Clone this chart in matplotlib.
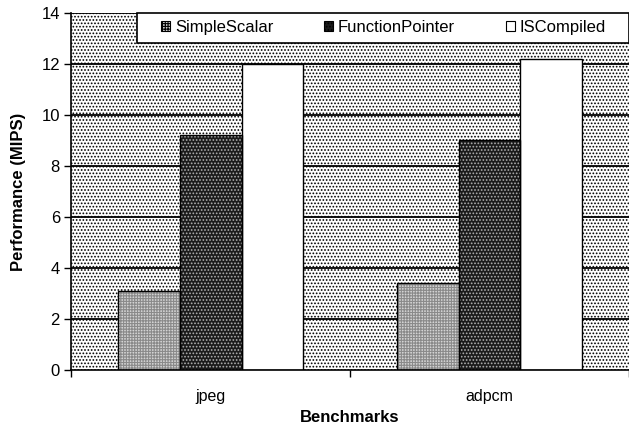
import matplotlib.pyplot as plt
import matplotlib.patches as mpatches
import numpy as np

plt.rcParams['font.family'] = ['Liberation Sans Narrow', 'Liberation Sans', 'DejaVu Sans']
plt.rcParams['hatch.linewidth'] = 0.8

# данные
benchmarks = ['jpeg', 'adpcm']
series = ['SimpleScalar', 'FunctionPointer', 'ISCompiled']
simple_scalar = [3.1, 3.4]
function_pointer = [9.2, 9.0]
is_compiled = [12.0, 12.2]

values = [simple_scalar, function_pointer, is_compiled]
# заливка: (цвет, штриховка, цвет штриховки)
styles = [('#d4d4d4', '++++++', '#8a8a8a'),
          ('#1a1a1a', '.....', '#b0b0b0'),
          ('white', None, 'black')]

fig = plt.figure(figsize=(6.29, 4.34), dpi=100)
ax = fig.add_axes([0.113, 0.1475, 0.887, 0.823])

# фон с точками
ax.set_facecolor('white')
bg = mpatches.Rectangle((0, 0), 1, 1, transform=ax.transAxes, facecolor='white',
                        edgecolor='black', hatch='.....', lw=0, zorder=0)
ax.add_patch(bg)

ax.set_axisbelow(False)
for y in range(2, 15, 2):
    ax.axhline(y, color='black', lw=1.3, zorder=1)

x = np.arange(len(benchmarks))
w = 0.222
for i, (vals, (fc, h, hc)) in enumerate(zip(values, styles)):
    pos = x + (i - 1) * w
    ax.bar(pos, vals, w, color=fc, hatch=h, edgecolor=hc, lw=0, zorder=2)
    ax.bar(pos, vals, w, fill=False, edgecolor='black', lw=1.0, zorder=3)

ax.set_xlim(-0.5, 1.5)
ax.set_ylim(0, 14)
ax.set_yticks(range(0, 15, 2))
ax.set_xticks([-0.5, 0.5, 1.5])
ax.set_xticklabels([])
ax.set_xticks(x, minor=True)
ax.set_xticklabels(benchmarks, minor=True, fontsize=11.5)
ax.tick_params(axis='x', which='minor', length=0, pad=14)
ax.tick_params(axis='x', which='major', length=5, direction='out', width=1)
ax.tick_params(axis='y', length=5, width=1, labelsize=12, pad=3)

for s in ['top', 'right']:
    ax.spines[s].set_visible(False)
ax.spines['left'].set_linewidth(1.2)
ax.spines['bottom'].set_linewidth(1.2)

ax.set_ylabel('Performance (MIPS)', fontsize=12, fontweight='bold', labelpad=11)
ax.set_xlabel('Benchmarks', fontsize=12, fontweight='bold', labelpad=4)

# рамка легенды
frame = mpatches.Rectangle((0.1185, 0.916), 0.8815, 0.084, transform=ax.transAxes,
                           facecolor='white', edgecolor='black', lw=1.2,
                           zorder=4, clip_on=False)
ax.add_patch(frame)

# легенда
handles = [mpatches.Patch(facecolor=fc, hatch=h, edgecolor='black', lw=0.8)
           for fc, h, hc in styles]
leg = ax.legend(handles, series, ncol=3, loc='center', mode='expand',
                bbox_to_anchor=(0.155, 0.916, 0.81, 0.084),
                frameon=False, handlelength=0.55, handleheight=0.55,
                handletextpad=0.3, borderaxespad=0, borderpad=0.2,
                prop={'family': ['Liberation Sans'], 'size': 12})
leg.set_zorder(5)

plt.savefig('out.png', dpi=100)
